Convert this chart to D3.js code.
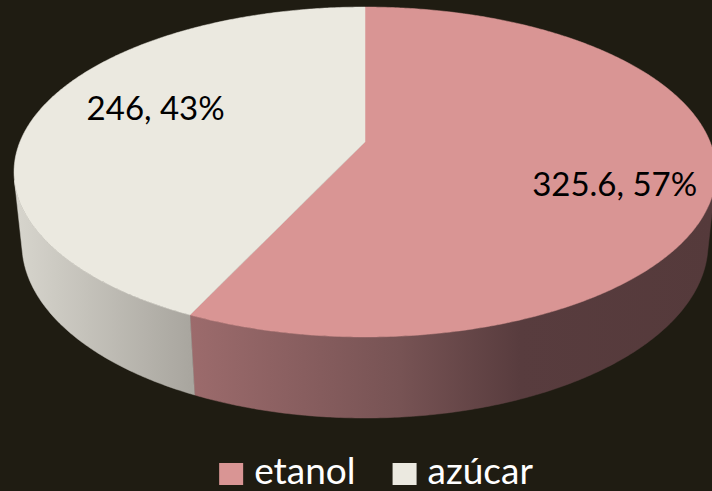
<!DOCTYPE html>
<html>
<head>
<meta charset="utf-8">
<script src="https://cdn.jsdelivr.net/npm/d3@7"></script>
<style>
  body { margin: 0; background: #1f1c12; }
  svg { display: block; }
</style>
</head>
<body>
<svg id="chart" width="712" height="491"></svg>
<script>
// datos del gráfico
const categories = ["etanol", "azúcar"];
const values = [325.6, 246];
const topColors = ["#d99594", "#ebe9e0"];
// sombreado de la pared lateral: [x en px, color]
const wallStops = [
  [[12, "#b27d7e"], [190, "#9c6b6c"], [400, "#775354"], [520, "#583c3e"], [712, "#553a3b"]],
  [[12, "#d8d6ce"], [190, "#a9a69f"], [712, "#a9a69f"]]
];

const width = 712, height = 491;
const svg = d3.select("#chart");
svg.append("rect").attr("width", width).attr("height", height).attr("fill", "#1f1c12");

// cámara en perspectiva (disco de radio 1)
const cam = { cx: 365, cy: 142, f: 1683.5, k: 4.878, sin: 0.4622, cos: 0.8868, depth: 0.2369 };
function project(theta, r, h) {
  const x = r * Math.cos(theta), z = r * Math.sin(theta);
  const yc = h * cam.cos + z * cam.sin;
  const zc = cam.k + h * cam.sin - z * cam.cos;
  return [cam.cx + cam.f * x / zc, cam.cy + cam.f * yc / zc];
}

const pie = d3.pie().sort(null).value(d => d)(values);
const total = d3.sum(values);
const toTheta = a => a - Math.PI / 2;
const step = Math.PI / 360;
const arcPts = (t0, t1) => d3.range(t0, t1, step).concat([t1]);
const line = d3.line();

// límites visibles de la pared frontal
const tMin = Math.asin(1 / (cam.k * cam.cos));
const tMax = Math.PI - tMin;

// gradientes
const defs = svg.append("defs");
wallStops.forEach((stops, i) => {
  const g = defs.append("linearGradient")
    .attr("id", "wall" + i)
    .attr("gradientUnits", "userSpaceOnUse")
    .attr("x1", 12).attr("x2", 712).attr("y1", 0).attr("y2", 0);
  stops.forEach(([x, c]) => {
    g.append("stop").attr("offset", (x - 12) / 700).attr("stop-color", c);
  });
});

// paredes laterales
pie.forEach((p, i) => {
  const t0 = Math.max(toTheta(p.startAngle), tMin);
  const t1 = Math.min(toTheta(p.endAngle), tMax);
  if (t1 <= t0) return;
  const ts = arcPts(t0, t1);
  const pts = ts.map(t => project(t, 1, 0))
    .concat(ts.slice().reverse().map(t => project(t, 1, cam.depth)));
  svg.append("path")
    .attr("d", line(pts) + "Z")
    .attr("fill", `url(#wall${i})`)
    .attr("stroke", `url(#wall${i})`)
    .attr("stroke-width", 0.5);
});

// caras superiores
pie.forEach((p, i) => {
  const ts = arcPts(toTheta(p.startAngle), toTheta(p.endAngle));
  const pts = [project(0, 0, 0)].concat(ts.map(t => project(t, 1, 0)));
  svg.append("path")
    .attr("d", line(pts) + "Z")
    .attr("fill", topColors[i])
    .attr("stroke", topColors[i])
    .attr("stroke-width", 0.5);
});

// etiquetas de datos
const labelPos = [{ r: 0.72, dy: 28 }, { r: 0.637, dy: 0 }];
pie.forEach((p, i) => {
  const mid = toTheta((p.startAngle + p.endAngle) / 2);
  const [x, y] = project(mid, labelPos[i].r, 0);
  svg.append("text")
    .attr("x", x)
    .attr("y", y + labelPos[i].dy)
    .attr("text-anchor", "middle")
    .attr("font-family", "Lato, 'Open Sans', sans-serif")
    .attr("font-size", 33)
    .attr("fill", "#000")
    .text(`${values[i]}, ${Math.round(values[i] / total * 100)}%`);
});

// leyenda
const legend = svg.append("g");
let lx = 0;
categories.forEach((c, i) => {
  const item = legend.append("g").attr("transform", `translate(${lx},0)`);
  item.append("rect")
    .attr("x", 0).attr("y", -21)
    .attr("width", 24).attr("height", 22)
    .attr("fill", topColors[i]);
  const t = item.append("text")
    .attr("x", 35).attr("y", 0)
    .attr("font-family", "Lato, 'Open Sans', sans-serif")
    .attr("font-size", 37)
    .attr("fill", "#ffffff")
    .text(c);
  lx += 35 + t.node().getComputedTextLength() + 37;
});
const lw = lx - 37;
legend.attr("transform", `translate(${376 - lw / 2},484)`);
</script>
</body>
</html>
